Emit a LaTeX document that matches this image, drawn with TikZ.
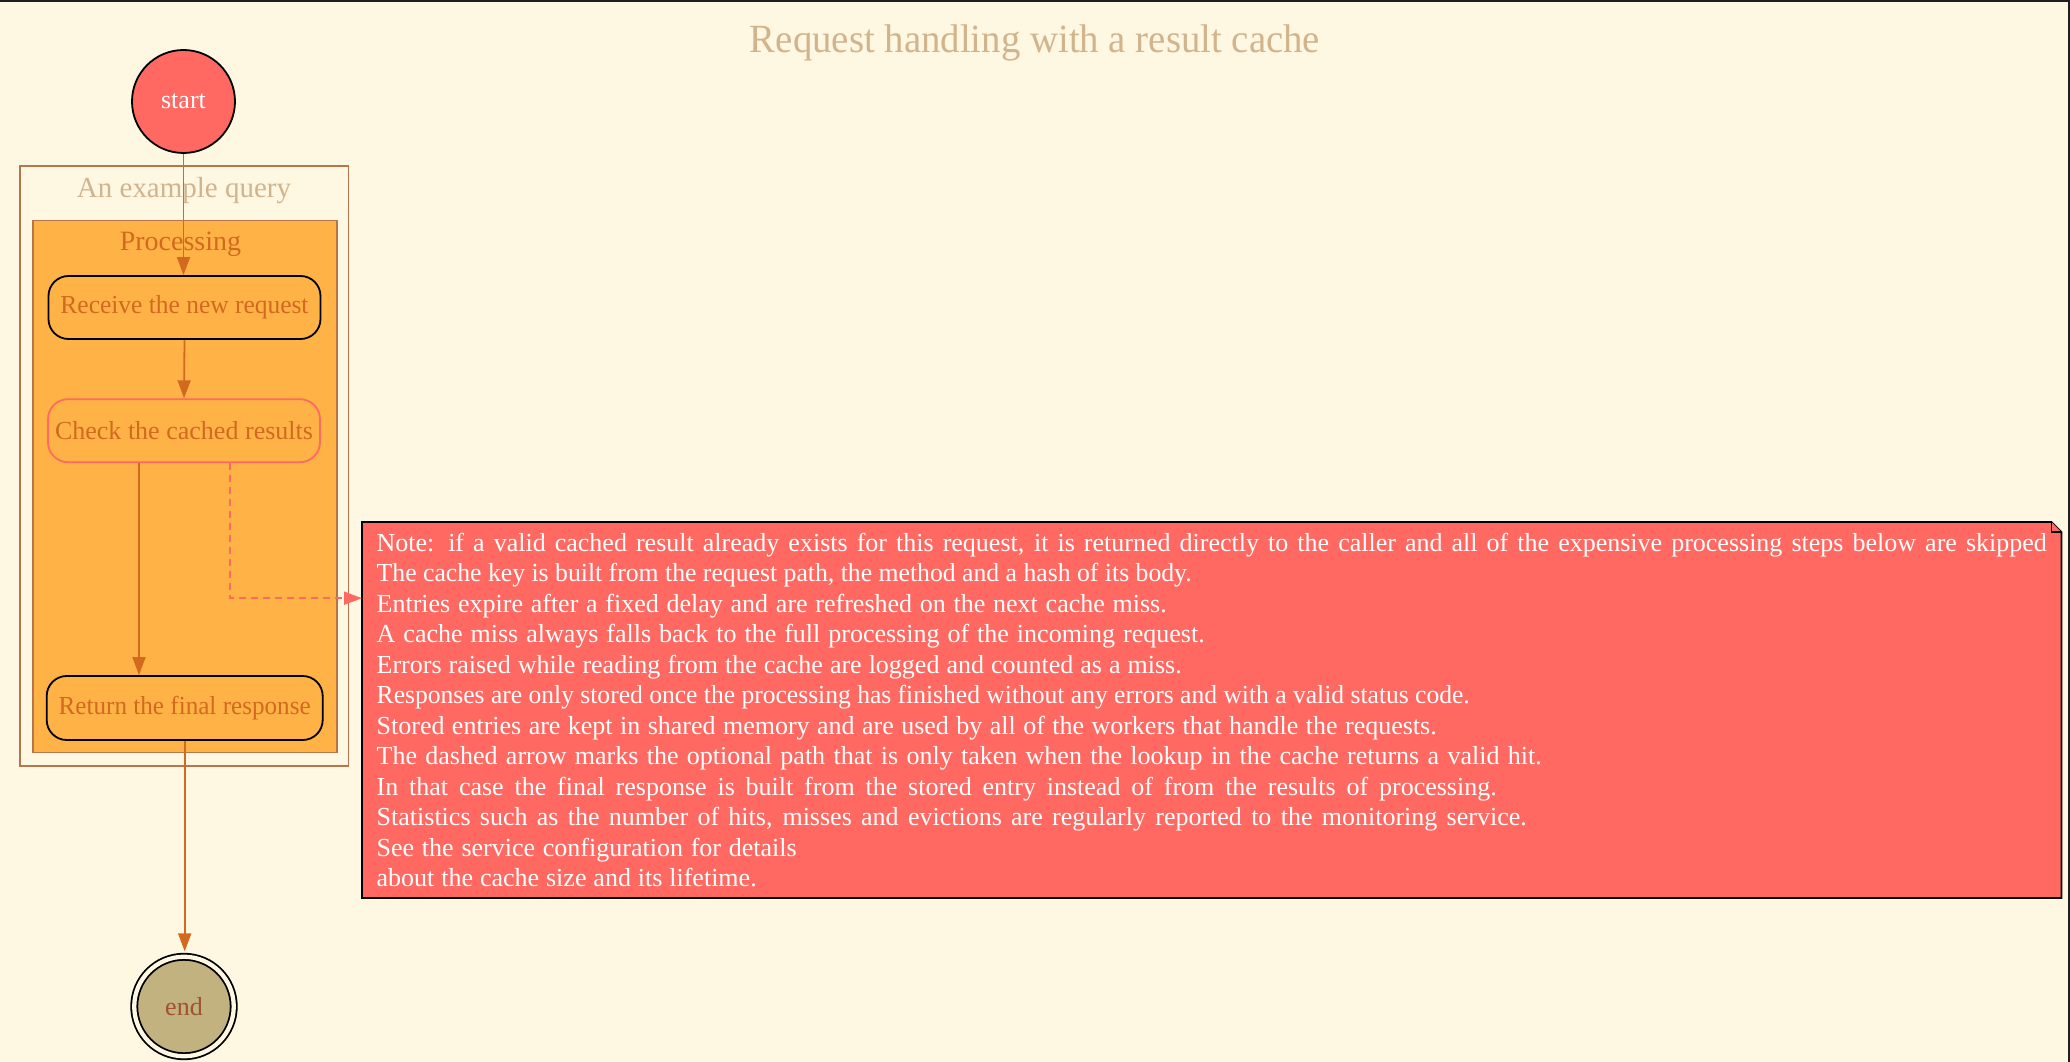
\documentclass[tikz,border=0pt]{standalone}
\usepackage{fontspec}
\usepackage{graphicx}
\setmainfont{Liberation Serif}
\usetikzlibrary{arrows.meta}
\pgfdeclarelayer{back}
\pgfdeclarelayer{mid}
\pgfsetlayers{back,mid,main}
\definecolor{bg}{HTML}{FEF7E1}
\definecolor{pred}{HTML}{FF6961}
\definecolor{porange}{HTML}{FFB347}
\definecolor{choc}{HTML}{D2691E}
\definecolor{clbrown}{HTML}{B8744A}
\definecolor{tanc}{HTML}{D2B48C}
\definecolor{sand}{HTML}{C2B280}
\definecolor{sienna}{HTML}{A0522D}
\newlength\fitlen
\newcommand\fitto[2]{\settowidth\fitlen{#2}\ifdim\fitlen>#1\relax\resizebox{#1}{\height}{#2}\else\hbox to #1{#2}\fi}
\begin{document}
\begin{tikzpicture}[x=1pt,y=-1pt,
  arr/.style={draw=choc,line width=1.8pt,-{Triangle[length=18pt,width=13pt]}},
  proc/.style={draw=black,line width=1.8pt,fill=porange,rounded corners=20pt,minimum width=272pt,minimum height=63pt,inner sep=0pt,text=choc,font=\fontsize{26}{30}\selectfont},
  lbl/.style={inner sep=0pt,anchor=base},
  cluster/.style={draw=clbrown,line width=1.8pt,inner sep=0pt}
]
\begin{pgfonlayer}{back}
\fill[bg] (0,0) rectangle (2070,1062);
\end{pgfonlayer}
\useasboundingbox (0,0) rectangle (2070,1062);
\draw[line width=2.5pt,black!88] (0,1.25) -- (2068.75,1.25) -- (2068.75,1062);

% title
\node[lbl,text=tanc,font=\fontsize{40}{46}\selectfont] (title) at (1035,53) {\fitto{570pt}{Request handling with a result cache}};

% clusters
\node[cluster,minimum width=328.7pt,minimum height=599.7pt] (outer) at (184.15,465.85) {};
\node[cluster,fill=porange,minimum width=303.6pt,minimum height=532pt] (inner) at (184.8,486.5) {};
\node[lbl,text=tanc,font=\fontsize{29}{32}\selectfont] (outerlbl) at (184,198) {\fitto{214pt}{An example query}};
\node[lbl,text=choc,font=\fontsize{28}{30}\selectfont] (innerlbl) at (180.5,250) {Processing};

% nodes
\node[circle,draw=black,line width=1.8pt,fill=pred,minimum size=103pt,inner sep=0pt,text=white,font=\fontsize{26}{30}\selectfont] (start) at (183.5,101.5) {start};
\node[proc] (n1) at (184.5,307.5) {\fitto{248pt}{Receive the new request}};
\node[proc,draw=pred] (n2) at (184,430.7) {\fitto{258pt}{Check the cached results}};
\node[proc,minimum width=276pt,minimum height=64pt] (n3) at (184.7,708) {\fitto{252pt}{Return the final response}};
\node[circle,draw=black,line width=1.8pt,double=bg,double distance=4.3pt,fill=sand,minimum size=99.5pt,inner sep=0pt,text=sienna,font=\fontsize{26}{30}\selectfont] (end) at (184,1006.5) {end};

% note
\node[inner sep=0pt,minimum width=1699pt,minimum height=375.5pt,anchor=north west,text=white,align=left,font=\fontsize{26}{30.5}\selectfont] (note) at (362,522) {%
\fitto{1670pt}{Note: if a valid cached result already exists for this request, it is returned directly to the caller and all of the expensive processing steps below are skipped}\\
\fitto{815pt}{The cache key is built from the request path, the method and a hash of its body.}\\
\fitto{790pt}{Entries expire after a fixed delay and are refreshed on the next cache miss.}\\
\fitto{828pt}{A cache miss always falls back to the full processing of the incoming request.}\\
\fitto{805pt}{Errors raised while reading from the cache are logged and counted as a miss.}\\
\fitto{1093pt}{Responses are only stored once the processing has finished without any errors and with a valid status code.}\\
\fitto{1060pt}{Stored entries are kept in shared memory and are used by all of the workers that handle the requests.}\\
\fitto{1165pt}{The dashed arrow marks the optional path that is only taken when the lookup in the cache returns a valid hit.}\\
\fitto{1120pt}{In that case the final response is built from the stored entry instead of from the results of processing.}\\
\fitto{1150pt}{Statistics such as the number of hits, misses and evictions are regularly reported to the monitoring service.}\\
\fitto{420pt}{See the service configuration for details}\\
\fitto{380pt}{about the cache size and its lifetime.}};
\begin{pgfonlayer}{mid}
\draw[line width=1.8pt,fill=pred,line join=miter] (note.south west) -- (note.north west) -- ([xshift=-10pt]note.north east) -- ([yshift=-10pt]note.north east) -- (note.south east) -- cycle;
\draw[line width=1.8pt,fill=pred] ([xshift=-10pt]note.north east) -- ([xshift=-10pt,yshift=-10pt]note.north east) -- ([yshift=-10pt]note.north east);
\end{pgfonlayer}

% edges
\draw[arr] (start.south) -- (start.south |- n1.north);
\draw[arr] (n1.south) -- (n2.north);
\draw[arr] ([xshift=-45pt]n2.south) -- ([xshift=-45pt]n2.south |- n3.north);
\draw[arr,draw=pred,dash pattern=on 7pt off 5pt] ([xshift=46pt]n2.south) |- ([yshift=111.75pt]note.west);
\draw[arr,shorten >=4.5pt] (n3.south) -- (n3.south |- end.north);
\end{tikzpicture}
\end{document}
